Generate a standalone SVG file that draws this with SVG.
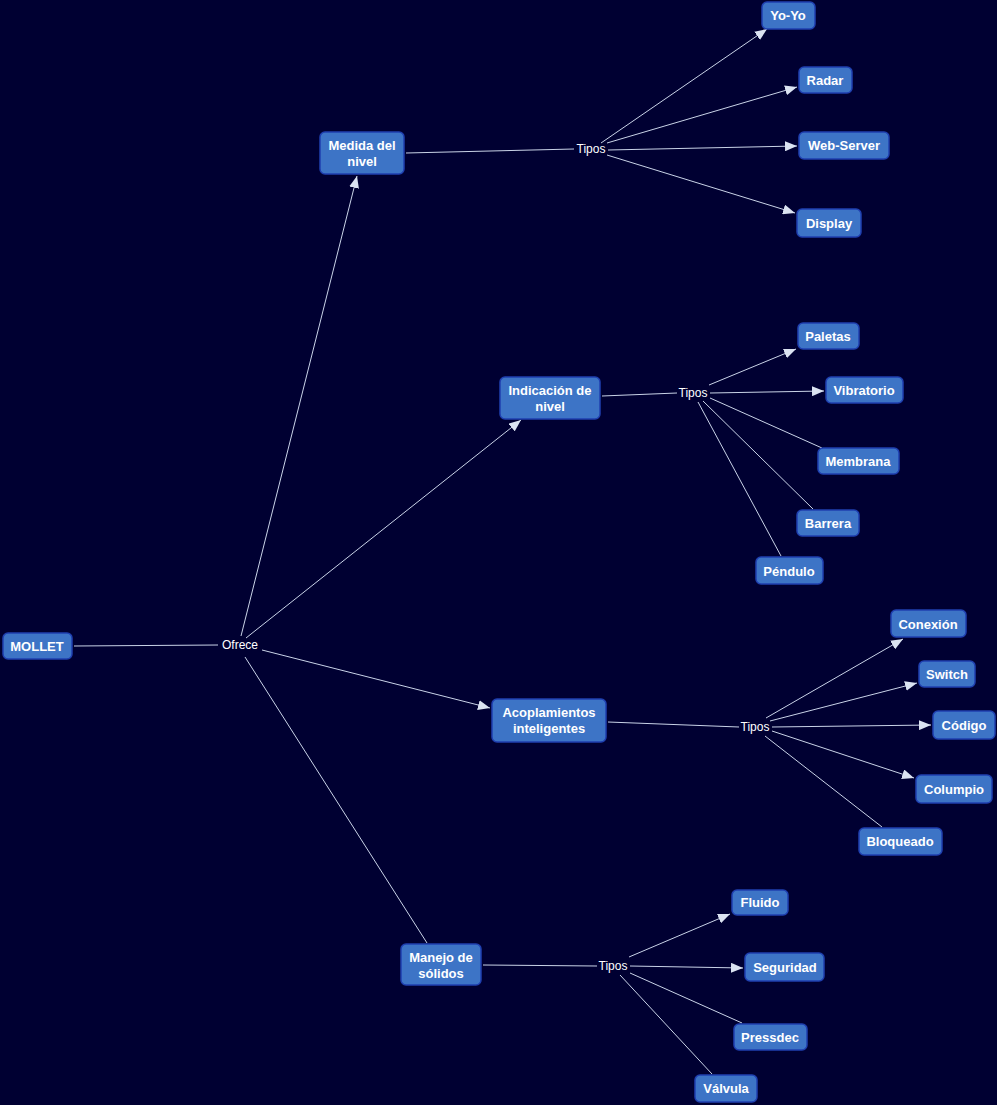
<svg xmlns="http://www.w3.org/2000/svg" width="997" height="1105" viewBox="0 0 997 1105">
<defs>
<style>
.n rect{fill:#3d74c6;stroke:#1f3fb0;stroke-width:1.5;}
.n text{fill:#fff;font-family:"Liberation Sans",Arial,sans-serif;font-weight:bold;font-size:13px;text-anchor:middle;}
.c line{stroke:#c9d3e8;stroke-width:1;}
.l{fill:#fff;font-family:"Liberation Sans",Arial,sans-serif;font-size:12px;text-anchor:middle;}
</style>
<marker id="ah" viewBox="0 0 12 10" refX="12" refY="5" markerWidth="12" markerHeight="10" markerUnits="userSpaceOnUse" orient="auto">
<path d="M0,0 L12,5 L0,10 Z" fill="#dbe3f2"/>
</marker>
<filter id="glow" x="-20%" y="-20%" width="140%" height="140%">
<feGaussianBlur in="SourceAlpha" stdDeviation="1.5"/>
<feFlood flood-color="#2a4fd0"/>
<feComposite operator="in" in2="blur"/>
<feMerge><feMergeNode/><feMergeNode in="SourceGraphic"/></feMerge>
</filter>
</defs>
<rect width="997" height="1105" fill="#000032"/>
<g id="connectors" class="c">
<line x1="74" y1="646" x2="218" y2="645"/>
<line x1="241" y1="636" x2="357" y2="176" marker-end="url(#ah)"/>
<line x1="246" y1="638" x2="521" y2="420" marker-end="url(#ah)"/>
<line x1="262" y1="650" x2="490" y2="708" marker-end="url(#ah)"/>
<line x1="245" y1="657" x2="427" y2="943"/>
<line x1="406" y1="153" x2="574" y2="149"/>
<line x1="601" y1="143" x2="767" y2="29" marker-end="url(#ah)"/>
<line x1="607" y1="143" x2="797" y2="87" marker-end="url(#ah)"/>
<line x1="608" y1="150" x2="797" y2="146" marker-end="url(#ah)"/>
<line x1="607" y1="155" x2="795" y2="213" marker-end="url(#ah)"/>
<line x1="602" y1="396" x2="677" y2="393"/>
<line x1="709" y1="385" x2="796" y2="349" marker-end="url(#ah)"/>
<line x1="710" y1="393" x2="824" y2="391" marker-end="url(#ah)"/>
<line x1="710" y1="398" x2="822" y2="448"/>
<line x1="703" y1="401" x2="813" y2="509"/>
<line x1="698" y1="402" x2="781" y2="556"/>
<line x1="608" y1="722" x2="739" y2="727"/>
<line x1="766" y1="718" x2="903" y2="639" marker-end="url(#ah)"/>
<line x1="770" y1="721" x2="917" y2="683" marker-end="url(#ah)"/>
<line x1="772" y1="727" x2="931" y2="725" marker-end="url(#ah)"/>
<line x1="772" y1="731" x2="914" y2="778" marker-end="url(#ah)"/>
<line x1="765" y1="736" x2="882" y2="827"/>
<line x1="483" y1="965" x2="597" y2="966"/>
<line x1="629" y1="957" x2="730" y2="914" marker-end="url(#ah)"/>
<line x1="630" y1="966" x2="743" y2="968" marker-end="url(#ah)"/>
<line x1="630" y1="973" x2="742" y2="1023"/>
<line x1="620" y1="975" x2="712" y2="1074"/>
</g>
<g id="labels">
<text class="l" x="240" y="649">Ofrece</text>
<text class="l" x="591" y="153">Tipos</text>
<text class="l" x="693" y="397">Tipos</text>
<text class="l" x="755" y="731">Tipos</text>
<text class="l" x="613" y="970">Tipos</text>
</g>
<g id="n-mollet" class="n"><rect x="3" y="633" width="69" height="26" rx="5"/><text x="37" y="651">MOLLET</text></g>
<g id="n-medida" class="n"><rect x="320" y="132" width="84" height="42" rx="5"/><text x="362" y="150">Medida del</text><text x="362" y="166">nivel</text></g>
<g id="n-yoyo" class="n"><rect x="762" y="2" width="53" height="27" rx="5"/><text x="788" y="20">Yo-Yo</text></g>
<g id="n-radar" class="n"><rect x="799" y="67" width="53" height="26" rx="5"/><text x="825" y="85">Radar</text></g>
<g id="n-webserver" class="n"><rect x="799" y="132" width="90" height="27" rx="5"/><text x="844" y="150">Web-Server</text></g>
<g id="n-display" class="n"><rect x="797" y="209" width="64" height="28" rx="5"/><text x="829" y="228">Display</text></g>
<g id="n-indicacion" class="n"><rect x="500" y="377" width="100" height="42" rx="5"/><text x="550" y="395">Indicación de</text><text x="550" y="411">nivel</text></g>
<g id="n-paletas" class="n"><rect x="798" y="323" width="61" height="26" rx="5"/><text x="828" y="341">Paletas</text></g>
<g id="n-vibratorio" class="n"><rect x="826" y="377" width="77" height="26" rx="5"/><text x="864" y="395">Vibratorio</text></g>
<g id="n-membrana" class="n"><rect x="818" y="448" width="81" height="26" rx="5"/><text x="858" y="466">Membrana</text></g>
<g id="n-barrera" class="n"><rect x="797" y="510" width="62" height="26" rx="5"/><text x="828" y="528">Barrera</text></g>
<g id="n-pendulo" class="n"><rect x="756" y="557" width="67" height="27" rx="5"/><text x="789" y="576">Péndulo</text></g>
<g id="n-acoplamientos" class="n"><rect x="492" y="699" width="114" height="43" rx="5"/><text x="549" y="717">Acoplamientos</text><text x="549" y="733">inteligentes</text></g>
<g id="n-conexion" class="n"><rect x="891" y="610" width="75" height="27" rx="5"/><text x="928" y="629">Conexión</text></g>
<g id="n-switch" class="n"><rect x="919" y="661" width="56" height="26" rx="5"/><text x="947" y="679">Switch</text></g>
<g id="n-codigo" class="n"><rect x="933" y="711" width="62" height="28" rx="5"/><text x="964" y="730">Código</text></g>
<g id="n-columpio" class="n"><rect x="916" y="775" width="76" height="28" rx="5"/><text x="954" y="794">Columpio</text></g>
<g id="n-bloqueado" class="n"><rect x="859" y="828" width="83" height="27" rx="5"/><text x="900" y="846">Bloqueado</text></g>
<g id="n-manejo" class="n"><rect x="401" y="944" width="80" height="41" rx="5"/><text x="441" y="962">Manejo de</text><text x="441" y="978">sólidos</text></g>
<g id="n-fluido" class="n"><rect x="732" y="890" width="56" height="25" rx="5"/><text x="760" y="907">Fluido</text></g>
<g id="n-seguridad" class="n"><rect x="745" y="953" width="79" height="28" rx="5"/><text x="785" y="972">Seguridad</text></g>
<g id="n-pressdec" class="n"><rect x="734" y="1024" width="73" height="26" rx="5"/><text x="770" y="1042">Pressdec</text></g>
<g id="n-valvula" class="n"><rect x="695" y="1075" width="62" height="27" rx="5"/><text x="726" y="1093">Válvula</text></g>
</svg>
